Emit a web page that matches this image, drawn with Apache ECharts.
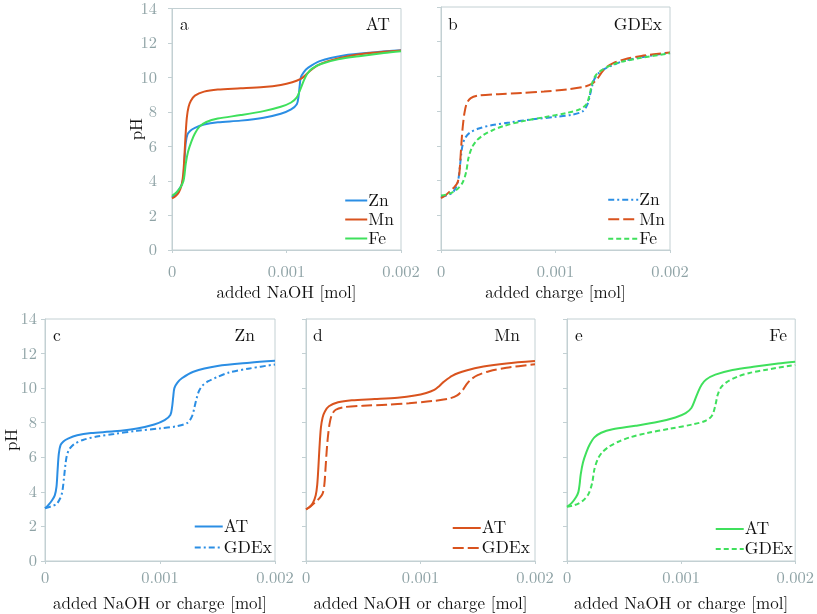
<!DOCTYPE html>
<html>
<head>
<meta charset="utf-8">
<script src="https://cdn.jsdelivr.net/npm/echarts@6/dist/echarts.min.js"></script>
<style>html,body{margin:0;padding:0;background:#fff}#c{width:817px;height:614px}</style>
</head>
<body>
<div id="c"></div>
<script>
// x in mol, y in pH
const atZn = [[0,3.05],[0.00003,3.25],[0.00006,3.5],[0.000085,3.8],[0.0001,4.3],[0.00011,5.3],[0.00012,6.2],[0.000135,6.7],[0.00016,6.92],[0.0002,7.08],[0.00028,7.27],[0.0004,7.4],[0.0006,7.5],[0.0008,7.67],[0.00095,7.9],[0.00104,8.15],[0.00109,8.45],[0.001105,8.9],[0.001115,9.5],[0.001125,10.0],[0.00115,10.3],[0.00119,10.57],[0.00129,10.95],[0.0015,11.28],[0.00178,11.47],[0.002,11.58]];
const gdexZn = [[0,3.05],[0.00005,3.15],[0.0001,3.3],[0.00013,3.6],[0.00015,4.0],[0.000165,4.8],[0.000178,5.6],[0.00019,6.1],[0.00021,6.45],[0.00025,6.75],[0.00033,7.0],[0.00045,7.2],[0.0006,7.35],[0.0008,7.53],[0.001,7.67],[0.00115,7.8],[0.00124,8.0],[0.00128,8.4],[0.0013,8.9],[0.00132,9.45],[0.00134,9.85],[0.00137,10.15],[0.00142,10.4],[0.0015,10.65],[0.0016,10.9],[0.00178,11.14],[0.002,11.37]];
const atMn = [[0,2.99],[0.00003,3.12],[0.00006,3.35],[0.000085,3.8],[0.000098,4.4],[0.000108,5.4],[0.000118,6.6],[0.00013,7.7],[0.000145,8.3],[0.000165,8.65],[0.0002,8.95],[0.00028,9.18],[0.0004,9.3],[0.0006,9.37],[0.0008,9.45],[0.00095,9.57],[0.00105,9.72],[0.00112,9.9],[0.00116,10.1],[0.0012,10.35],[0.00128,10.73],[0.0014,11.02],[0.00155,11.25],[0.00175,11.43],[0.002,11.57]];
const gdexMn = [[0,2.99],[0.00004,3.15],[0.00008,3.4],[0.00012,3.65],[0.000145,3.9],[0.00016,4.4],[0.00017,5.3],[0.00018,6.3],[0.00019,7.1],[0.000205,7.9],[0.000225,8.45],[0.00026,8.75],[0.00033,8.9],[0.0005,8.98],[0.0007,9.04],[0.0009,9.13],[0.0011,9.25],[0.00125,9.4],[0.00132,9.58],[0.00137,9.9],[0.0014,10.2],[0.00144,10.5],[0.0015,10.75],[0.0016,10.98],[0.00175,11.18],[0.002,11.38]];
const atFe = [[0,3.14],[0.00004,3.35],[0.00008,3.7],[0.0001,4.0],[0.00011,4.4],[0.00012,5.0],[0.00014,5.7],[0.00017,6.3],[0.0002,6.75],[0.00024,7.15],[0.0003,7.42],[0.0004,7.62],[0.0006,7.82],[0.0008,8.05],[0.00095,8.3],[0.00104,8.55],[0.00109,8.85],[0.00112,9.3],[0.00115,9.8],[0.00118,10.2],[0.00122,10.5],[0.0013,10.78],[0.00145,11.05],[0.00165,11.25],[0.00185,11.42],[0.002,11.52]];
const gdexFe = [[0,3.14],[0.00005,3.2],[0.0001,3.32],[0.00015,3.55],[0.00019,3.9],[0.00022,4.5],[0.00024,5.3],[0.00027,5.9],[0.00031,6.3],[0.00037,6.62],[0.00045,6.9],[0.00055,7.15],[0.0007,7.4],[0.0009,7.65],[0.0011,7.9],[0.00121,8.1],[0.00127,8.4],[0.0013,9.0],[0.00132,9.6],[0.00135,10.05],[0.0014,10.35],[0.0015,10.68],[0.0016,10.88],[0.00175,11.07],[0.002,11.34]];

const xMin = 0, xMax = 0.002, xInterval = 0.001;
const yMin = 0, yMax = 14, yInterval = 2;
const xTitles = ['added NaOH [mol]', 'added charge [mol]', 'added NaOH or charge [mol]', 'added NaOH or charge [mol]', 'added NaOH or charge [mol]'];
const yTitle = 'pH';
const panelLetters = ['a', 'b', 'c', 'd', 'e'];
const panelTags = ['AT', 'GDEx', 'Zn', 'Mn', 'Fe'];

const COL = { Zn: '#2b8ee4', Mn: '#d9531e', Fe: '#3fe05c' };
const DASH = { Zn: [6, 3, 2, 3], Mn: [11, 4], Fe: [5, 3] };
const FONT = 'Latin Modern Roman';
const AX = '#c3d0d3';
const LBL = '#8fa3a6';

const grids = [
  { left: 172, top: 7, width: 229, height: 243 },
  { left: 441, top: 7, width: 229, height: 243 },
  { left: 45, top: 319, width: 230, height: 242 },
  { left: 306, top: 319, width: 229, height: 242 },
  { left: 567, top: 319, width: 229, height: 242 }
];
const showY = [true, false, true, false, false];
const xLabelMargin = [13, 13, 8, 8, 8];
const yLabelMargin = [15, 15, 8, 8, 8];
const yNameGap = [27, 27, 25, 25, 25];

const xAxis = [], yAxis = [];
grids.forEach((g, i) => {
  xAxis.push({
    type: 'value', gridIndex: i, min: xMin, max: xMax, interval: xInterval,
    name: xTitles[i], nameLocation: 'middle', nameGap: 34,
    nameTextStyle: { fontFamily: FONT, fontSize: 17, color: '#111' },
    axisLine: { show: true, lineStyle: { color: AX, width: 1 } },
    axisTick: { show: true, inside: false, length: 3, lineStyle: { color: AX } },
    axisLabel: { show: true, margin: xLabelMargin[i], fontFamily: FONT, fontSize: 16.5, color: LBL, formatter: v => String(v) },
    splitLine: { show: false }
  });
  yAxis.push({
    type: 'value', gridIndex: i, min: yMin, max: yMax, interval: yInterval,
    name: showY[i] ? yTitle : '', nameLocation: 'middle', nameGap: yNameGap[i], nameMoveOverlap: false,
    nameTextStyle: { fontFamily: FONT, fontSize: 17, color: '#111' },
    axisLine: { show: true, lineStyle: { color: AX, width: 1 } },
    axisTick: { show: true, inside: false, length: 4, lineStyle: { color: AX } },
    axisLabel: { show: showY[i], margin: yLabelMargin[i], fontFamily: FONT, fontSize: 16.5, color: LBL },
    splitLine: { show: false }
  });
});
// overlay axes for inner tick halves
grids.forEach((g, i) => {
  xAxis.push({
    type: 'value', gridIndex: i, min: xMin, max: xMax, interval: xInterval,
    axisLine: { show: false }, axisTick: { show: true, inside: true, length: 3, lineStyle: { color: AX } },
    axisLabel: { show: false }, splitLine: { show: false }
  });
  yAxis.push({
    type: 'value', gridIndex: i, min: yMin, max: yMax, interval: yInterval,
    axisLine: { show: false }, axisTick: { show: true, inside: true, length: 3, lineStyle: { color: AX } },
    axisLabel: { show: false }, splitLine: { show: false }
  });
});

function line(name, data, gi, color, dash) {
  return {
    type: 'line', name: name, data: data, xAxisIndex: gi, yAxisIndex: gi,
    showSymbol: false, symbol: 'none', smooth: 0.3,
    lineStyle: { color: color, width: 2, type: dash || 'solid' },
    itemStyle: { color: color }, animation: false, z: 3
  };
}

const series = [
  line('a:Zn', atZn, 0, COL.Zn),
  line('a:Mn', atMn, 0, COL.Mn),
  line('a:Fe', atFe, 0, COL.Fe),
  line('b:Zn', gdexZn, 1, COL.Zn, DASH.Zn),
  line('b:Mn', gdexMn, 1, COL.Mn, DASH.Mn),
  line('b:Fe', gdexFe, 1, COL.Fe, DASH.Fe),
  line('c:AT', atZn, 2, COL.Zn),
  line('c:GDEx', gdexZn, 2, COL.Zn, DASH.Zn),
  line('d:AT', atMn, 3, COL.Mn),
  line('d:GDEx', gdexMn, 3, COL.Mn, DASH.Mn),
  line('e:AT', atFe, 4, COL.Fe),
  line('e:GDEx', gdexFe, 4, COL.Fe, DASH.Fe)
];

function legend(names, right, top, itemWidth, lh) {
  return {
    data: names, orient: 'vertical', right: right, top: top, padding: 0,
    itemGap: 0, itemWidth: itemWidth, itemHeight: 1, selectedMode: false,
    itemStyle: { opacity: 0 },
    formatter: n => n.split(':')[1],
    textStyle: { fontFamily: FONT, fontSize: 17.5, color: '#111', lineHeight: lh, padding: [0, 0, 0, -4] }
  };
}

const legends = [
  legend(['a:Zn', 'a:Mn', 'a:Fe'], 423, 191, 22, 19),
  legend(['b:Zn', 'b:Mn', 'b:Fe'], 152, 190, 30, 19.5),
  legend(['c:AT', 'c:GDEx'], 545, 516, 28, 21),
  legend(['d:AT', 'd:GDEx'], 287, 518, 28, 20),
  legend(['e:AT', 'e:GDEx'], 24, 519, 28, 20)
];

const letterPos = [[180, 16], [448, 16], [53, 327], [313, 327], [575, 327]];
const tagRight = [427, 155, 562, 297, 30];
const graphic = [];
panelLetters.forEach((t, i) => {
  graphic.push({ type: 'text', left: letterPos[i][0], top: letterPos[i][1], style: { text: t, fontFamily: FONT, fontSize: 17.5, fill: '#111' } });
  graphic.push({ type: 'text', right: tagRight[i], top: letterPos[i][1], style: { text: panelTags[i], fontFamily: FONT, fontSize: 17.5, fill: '#111' } });
});

const chart = echarts.init(document.getElementById('c'), null, { renderer: 'canvas' });
chart.setOption({
  backgroundColor: '#fff',
  animation: false,
  textStyle: { fontFamily: FONT },
  grid: grids.map(g => Object.assign({ show: true, borderColor: AX, borderWidth: 1, backgroundColor: 'transparent' }, g)),
  xAxis: xAxis, yAxis: yAxis, series: series, legend: legends, graphic: graphic
});
</script>
</body>
</html>
